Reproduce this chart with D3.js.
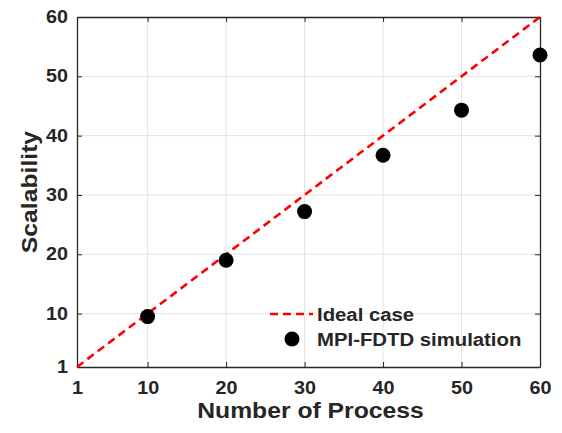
<!DOCTYPE html>
<html><head><meta charset="utf-8">
<script src="https://cdn.jsdelivr.net/npm/d3@7/dist/d3.min.js"></script>
<style>
body{margin:0;background:#fff;}
text{font-family:"Liberation Sans",Arial,Helvetica,sans-serif;font-weight:bold;fill:#262626;}
</style></head>
<body><svg id="c" width="562" height="433"></svg>
<script>
const processes = [10, 20, 30, 40, 50, 60];
const scalability = [9.5, 19.0, 27.2, 36.7, 44.3, 53.6];
const idealX = [1, 60];
const idealY = [1, 60];
const xTicks = [1, 10, 20, 30, 40, 50, 60];
const yTicks = [1, 10, 20, 30, 40, 50, 60];
const xLabel = "Number of Process";
const yLabel = "Scalability";
const legendLabels = ["Ideal case", "MPI-FDTD simulation"];

const svg = d3.select("#c");
const m = {l: 77, r: 540, t: 17, b: 367};
const x = d3.scaleLinear().domain([1, 60]).range([m.l, m.r]);
const y = d3.scaleLinear().domain([1, 60]).range([m.b, m.t]);
const axisCol = "#262626";
const sx = 1.13;

// grid
const g = svg.append("g");
g.selectAll("line.gx").data(xTicks.slice(1, -1)).join("line")
  .attr("x1", d => x(d)).attr("x2", d => x(d)).attr("y1", m.t).attr("y2", m.b)
  .attr("stroke", "#e3e3e3").attr("stroke-width", 1);
g.selectAll("line.gy").data(yTicks.slice(1, -1)).join("line")
  .attr("y1", d => y(d)).attr("y2", d => y(d)).attr("x1", m.l).attr("x2", m.r)
  .attr("stroke", "#e3e3e3").attr("stroke-width", 1);

// axes
const tl = 5;
const xb = svg.append("g").attr("transform", `translate(0,${m.b})`)
  .call(d3.axisBottom(x).tickValues(xTicks).tickSizeInner(-tl).tickSizeOuter(0).tickPadding(15));
const xt = svg.append("g").attr("transform", `translate(0,${m.t})`)
  .call(d3.axisTop(x).tickValues(xTicks).tickSizeInner(-tl).tickSizeOuter(0).tickFormat(""));
const yl = svg.append("g").attr("transform", `translate(${m.l},0)`)
  .call(d3.axisLeft(y).tickValues(yTicks).tickSizeInner(-tl).tickSizeOuter(0).tickPadding(8));
const yr = svg.append("g").attr("transform", `translate(${m.r},0)`)
  .call(d3.axisRight(y).tickValues(yTicks).tickSizeInner(-tl).tickSizeOuter(0).tickFormat(""));
[xb, xt, yl, yr].forEach(a => {
  a.attr("font-size", null).attr("font-family", null);
  a.select(".domain").attr("stroke", axisCol).attr("stroke-width", 1.3);
  a.selectAll(".tick line").attr("stroke", axisCol).attr("stroke-width", 1);
  a.selectAll(".tick text").attr("fill", axisCol)
   .style("font-size", "17.5px")
   .style("font-family", '"Liberation Sans",Arial,sans-serif').style("font-weight", "bold")
   .attr("transform", `scale(${sx},1)`);
});

// ideal line
svg.append("path")
  .datum(idealX.map((v, i) => [v, idealY[i]]))
  .attr("d", d3.line().x(d => x(d[0])).y(d => y(d[1])))
  .attr("stroke", "#ff0000").attr("stroke-width", 2.6).attr("fill", "none")
  .attr("stroke-dasharray", "8,5");

// points
svg.selectAll("circle.p").data(processes).join("circle")
  .attr("cx", d => x(d)).attr("cy", (d, i) => y(scalability[i])).attr("r", 7.5)
  .attr("fill", "#000");

// labels
svg.append("text").attr("transform", `translate(${(m.l + m.r) / 2 + 2},418) scale(1.15,1)`)
  .attr("text-anchor", "middle").style("font-size", "21.5px").text(xLabel);
svg.append("text").attr("transform", `translate(37,${(m.t + m.b) / 2}) rotate(-90) scale(1.15,1)`)
  .attr("text-anchor", "middle").style("font-size", "21.5px").text(yLabel);

// legend
const lg = svg.append("g");
lg.append("line").attr("x1", 270).attr("x2", 313).attr("y1", 314).attr("y2", 314)
  .attr("stroke", "#ff0000").attr("stroke-width", 2.6).attr("stroke-dasharray", "8,5");
lg.append("circle").attr("cx", 292).attr("cy", 339).attr("r", 7.5).attr("fill", "#000");
lg.selectAll("text").data(legendLabels).join("text")
  .attr("transform", (d, i) => `translate(317,${321 + i * 25}) scale(${sx},1)`)
  .style("font-size", "18px")
  .attr("fill", "#000").text(d => d);
</script></body></html>
